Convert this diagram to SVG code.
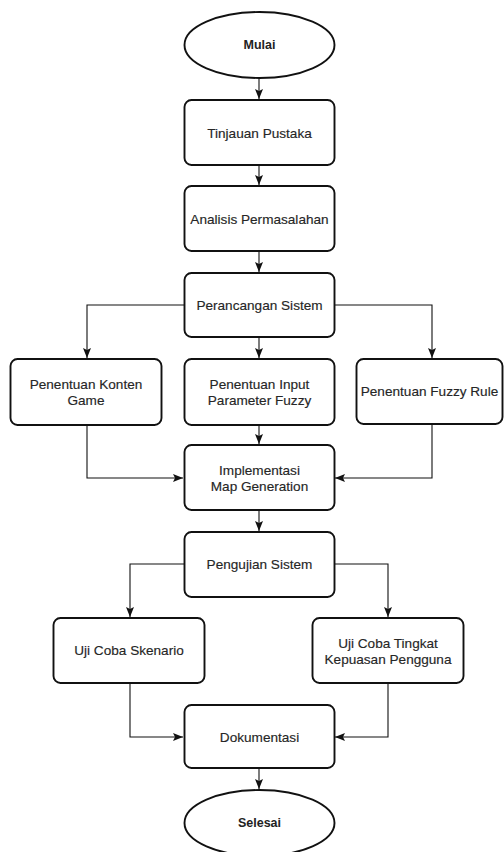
<svg xmlns="http://www.w3.org/2000/svg" width="504" height="852" viewBox="0 0 504 852">
<style>
.box{fill:#fff;stroke:#111;stroke-width:1.9}
.t{font-family:"Liberation Sans",Arial,sans-serif;font-size:13.6px;fill:#262626;text-anchor:middle;dominant-baseline:central;stroke:#262626;stroke-width:0.15}
.b{font-weight:bold;font-size:12.5px;fill:#222;stroke:none}
.c{fill:none;stroke:#111;stroke-width:1.1}
</style>
<defs>
<marker id="ah" markerUnits="userSpaceOnUse" markerWidth="10" markerHeight="10" viewBox="0 0 10 10" refX="10" refY="5" orient="auto">
<path d="M0,1 L10,5 L0,9 L2,5 Z" fill="#111"/>
</marker>
</defs>
<rect width="504" height="852" fill="#fff"/>
<g id="connectors">
<path class="c" d="M259,78 V99" marker-end="url(#ah)"/>
<path class="c" d="M259,165 V185" marker-end="url(#ah)"/>
<path class="c" d="M259,251 V272" marker-end="url(#ah)"/>
<path class="c" d="M184,305 H87 V358" marker-end="url(#ah)"/>
<path class="c" d="M259,337 V358" marker-end="url(#ah)"/>
<path class="c" d="M334,305 H432 V358" marker-end="url(#ah)"/>
<path class="c" d="M87,425 V478 H183" marker-end="url(#ah)"/>
<path class="c" d="M259,425 V444" marker-end="url(#ah)"/>
<path class="c" d="M432,423 V478 H335" marker-end="url(#ah)"/>
<path class="c" d="M259,510 V531" marker-end="url(#ah)"/>
<path class="c" d="M184,564 H130 V617" marker-end="url(#ah)"/>
<path class="c" d="M334,564 H388 V617" marker-end="url(#ah)"/>
<path class="c" d="M130,683 V737 H183" marker-end="url(#ah)"/>
<path class="c" d="M388,683 V737 H335" marker-end="url(#ah)"/>
<path class="c" d="M259,768 V789" marker-end="url(#ah)"/>
</g>
<g id="mulai">
<ellipse class="box" cx="259.5" cy="45" rx="75" ry="33"/>
<text class="t b" x="259.5" y="45">Mulai</text>
</g>
<g id="tinjauan">
<rect class="box" x="184.5" y="100" width="150" height="65" rx="7"/>
<text class="t" x="259.5" y="133">Tinjauan Pustaka</text>
</g>
<g id="analisis">
<rect class="box" x="184.5" y="186" width="150" height="65" rx="7"/>
<text class="t" x="259.5" y="219">Analisis Permasalahan</text>
</g>
<g id="perancangan">
<rect class="box" x="184.5" y="273" width="150" height="64" rx="7"/>
<text class="t" x="259.5" y="305">Perancangan Sistem</text>
</g>
<g id="konten">
<rect class="box" x="10.5" y="359" width="151" height="66" rx="7"/>
<text class="t" x="86" y="384">Penentuan Konten</text>
<text class="t" x="86" y="400">Game</text>
</g>
<g id="input">
<rect class="box" x="184.5" y="359" width="150" height="66" rx="7"/>
<text class="t" x="259.5" y="384">Penentuan Input</text>
<text class="t" x="259.5" y="400">Parameter Fuzzy</text>
</g>
<g id="fuzzyrule">
<rect class="box" x="356.5" y="359" width="146" height="65" rx="7"/>
<text class="t" x="429.5" y="391">Penentuan Fuzzy Rule</text>
</g>
<g id="implementasi">
<rect class="box" x="184.5" y="445" width="150" height="65" rx="7"/>
<text class="t" x="259.5" y="470">Implementasi</text>
<text class="t" x="259.5" y="486">Map Generation</text>
</g>
<g id="pengujian">
<rect class="box" x="184.5" y="532" width="150" height="65" rx="7"/>
<text class="t" x="259.5" y="564">Pengujian Sistem</text>
</g>
<g id="skenario">
<rect class="box" x="53.5" y="618" width="151" height="65" rx="7"/>
<text class="t" x="129" y="650">Uji Coba Skenario</text>
</g>
<g id="kepuasan">
<rect class="box" x="312.5" y="618" width="151" height="65" rx="7"/>
<text class="t" x="388" y="643">Uji Coba Tingkat</text>
<text class="t" x="388" y="659">Kepuasan Pengguna</text>
</g>
<g id="dokumentasi">
<rect class="box" x="184.5" y="705" width="150" height="63" rx="7"/>
<text class="t" x="259.5" y="737">Dokumentasi</text>
</g>
<g id="selesai">
<ellipse class="box" cx="259.5" cy="823" rx="75" ry="33"/>
<text class="t b" x="259.5" y="823">Selesai</text>
</g>
</svg>
